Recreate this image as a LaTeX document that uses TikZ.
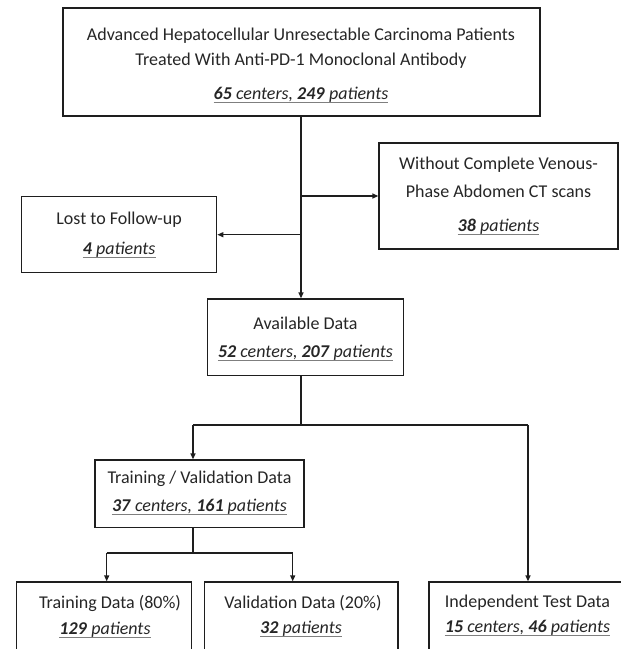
\documentclass[tikz,border=0pt]{standalone}
\usepackage{fontspec}
\setmainfont{Carlito}
\usetikzlibrary{arrows.meta}
\definecolor{txt}{HTML}{262626}
\definecolor{uln}{HTML}{7F7F7F}
\definecolor{ln}{HTML}{1E1E1E}
\newcommand{\bi}[1]{\textbf{\textit{#1}}}
\begin{document}
\begin{tikzpicture}[x=1pt,y=-1pt,
  box/.style={draw=ln, line width=1.3pt, inner sep=0pt, fill=white},
  tx/.style={text=txt, font=\fontsize{18}{22}\selectfont, inner sep=0pt, anchor=center},
  conn/.style={draw=ln, line width=1.3pt},
  arr/.style={conn, -{Triangle[length=6pt,width=5pt]}},
  ul/.style={draw=uln, line width=1pt}]
\useasboundingbox (0,0) rectangle (621,649);
\clip (0,0) rectangle (621,649);
\fill[white] (0,0) rectangle (621,649);

% boxes
\node[box, minimum width=477pt, minimum height=108pt] (top) at (301.35,62) {};
\node[box, minimum width=239pt, minimum height=106pt] (rb) at (498.5,196) {};
\node[box, minimum width=195pt, minimum height=76pt] (lost) at (119.2,234.7) {};
\node[box, minimum width=195.6pt, minimum height=76.5pt] (avail) at (305.5,337.25) {};
\node[box, minimum width=209pt, minimum height=67.7pt] (tv) at (199.5,493.85) {};
\node[box, minimum width=175pt, minimum height=90pt] (train) at (104.2,627) {};
\node[box, minimum width=193.3pt, minimum height=90pt] (val) at (301.35,627) {};
\node[box, minimum width=198pt, minimum height=90pt] (ind) at (528,627) {};

% texts
\node[tx] (t1) at (301,36) {Advanced Hepatocellular Unresectable Carcinoma Patients};
\node[tx] (t2) at (301,61) {Treated With Anti-PD-1 Monoclonal Antibody};
\node[tx] (t3) at (301,95) {\bi{65}\textit{ centers, }\bi{249}\textit{ patients}};

\node[tx] (r1) at (498.5,165) {Without Complete Venous-};
\node[tx] (r2) at (498.5,191.7) {Phase Abdomen CT scans};
\node[tx] (r3) at (498.5,227) {\bi{38}\textit{ patients}};

\node[tx] (l1) at (119.2,220) {Lost to Follow-up};
\node[tx] (l2) at (119.2,250) {\bi{4}\textit{ patients}};

\node[tx] (a1) at (305.5,323) {Available Data};
\node[tx] (a2) at (305.5,352.7) {\bi{52}\textit{ centers, }\bi{207}\textit{ patients}};

\node[tx] (v1) at (199.5,479) {Training / Validation Data};
\node[tx] (v2) at (199.5,506.7) {\bi{37}\textit{ centers, }\bi{161}\textit{ patients}};

\node[tx] (tr1) at (110,603) {Training Data (80\%)};
\node[tx] (tr2) at (105,629.3) {\bi{129}\textit{ patients}};

\node[tx] (va1) at (303,603) {Validation Data (20\%)};
\node[tx] (va2) at (301,629) {\bi{32}\textit{ patients}};

\node[tx] (in1) at (527.5,603) {Independent Test Data};
\node[tx] (in2) at (527.5,628) {\bi{15}\textit{ centers, }\bi{46}\textit{ patients}};

% underlines
\foreach \n in {t3,r3,l2,a2,v2,tr2,va2,in2}{
  \draw[ul] ([yshift=-3pt]\n.base west) -- ([yshift=-3pt]\n.base east);
}

% connectors
\coordinate (trunk) at (301,116);
\draw[arr] (top.south -| trunk) -- (trunk |- avail.north);
\draw[arr] (trunk |- rb.west) -- (rb.west);
\draw[arr] (trunk |- lost.east) -- (lost.east);

\coordinate (s1) at (301,425);
\coordinate (s1L) at (193,425);
\coordinate (s1R) at (ind.north |- s1);
\draw[conn] (s1 |- avail.south) -- (s1);
\draw[conn] (s1L) -- (s1R);
\draw[arr] (s1L) -- (s1L |- tv.north);
\draw[arr] (s1R) -- (ind.north);

\coordinate (s2) at (193,553);
\coordinate (s2L) at (106.7,553);
\coordinate (s2R) at (292.7,553);
\draw[conn] (s2 |- tv.south) -- (s2);
\draw[conn] (s2L) -- (s2R);
\draw[arr] (s2L) -- (s2L |- train.north);
\draw[arr] (s2R) -- (s2R |- val.north);
\end{tikzpicture}
\end{document}
